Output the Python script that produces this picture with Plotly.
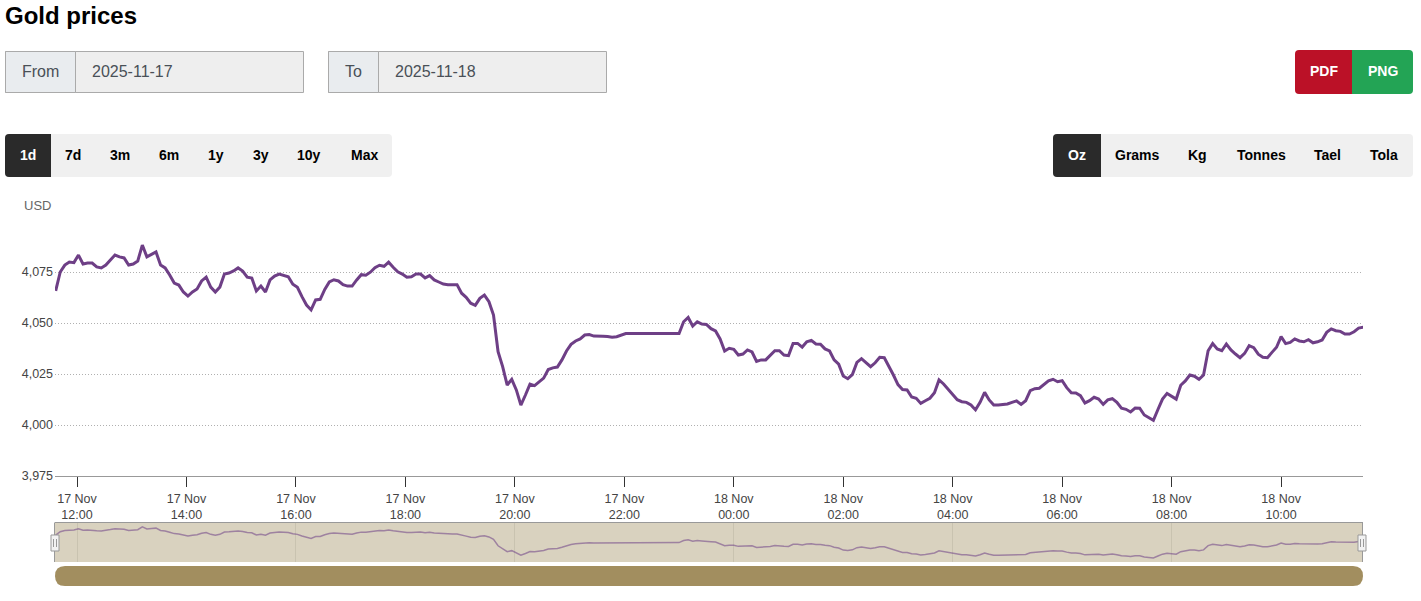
"""Gold prices page: 1-day USD/oz line with navigator and range controls."""

import pandas as pd
import plotly.graph_objects as go

# ── Data ──────────────────────────────────────────────────────────────────────
# 5-minute prices up to the flat stretch on the evening of 17 Nov
prices_before_gap = [
    4065.7, 4075.0, 4078.4, 4079.9, 4079.6, 4083.3, 4078.9, 4079.4, 4079.4, 4077.5,
    4077.0, 4078.4, 4080.9, 4083.3, 4082.4, 4081.9, 4078.4, 4078.9, 4080.4, 4088.2,
    4082.4, 4083.6, 4084.8, 4078.4, 4077.0, 4073.5, 4069.6, 4068.6, 4065.2, 4063.2,
    4065.2, 4066.7, 4070.6, 4072.5, 4067.6, 4065.2, 4067.6, 4074.0, 4074.5, 4075.5,
    4077.0, 4075.5, 4072.5, 4072.0, 4065.7, 4068.1, 4065.2, 4071.1, 4073.0, 4074.0,
    4073.5, 4072.7, 4069.0, 4067.5, 4062.9, 4058.8, 4056.4, 4061.3, 4061.6, 4066.5,
    4070.1, 4071.2, 4070.6, 4068.8, 4068.1, 4068.1, 4071.1, 4073.7, 4073.4, 4074.9,
    4077.1, 4078.3, 4077.8, 4079.8, 4077.3, 4075.1, 4074.0, 4072.4, 4072.7, 4074.0,
    4074.0, 4072.1, 4073.2, 4071.1, 4070.1, 4069.1, 4068.8, 4068.8, 4068.8, 4064.6,
    4062.6, 4059.7, 4058.7, 4062.1, 4063.7, 4060.4, 4053.9, 4035.9, 4028.6, 4019.6,
    4022.4, 4017.2, 4009.8, 4014.7, 4020.0, 4019.3, 4021.2, 4023.0, 4027.2, 4028.0,
    4028.4, 4031.9, 4036.3, 4039.5, 4041.2, 4042.2, 4044.1, 4044.3, 4043.6, 4043.7,
    4043.5, 4043.4, 4043.0, 4043.3, 4043.9, 4044.8, 4044.8, 4044.8, 4044.8, 4044.8,
    4044.8, 4044.8, 4044.8, 4044.8, 4044.8, 4044.8, 4044.8,
]

# 5-minute prices from 23:00 on 17 Nov to the end of the window
prices_after_gap = [
    4044.8, 4050.6, 4052.7, 4048.5, 4050.6, 4049.5, 4049.3, 4047.2, 4046.1, 4042.2,
    4036.3, 4037.6, 4037.1, 4034.3, 4034.8, 4036.8, 4035.8, 4031.2, 4031.9, 4031.9,
    4034.0, 4036.4, 4036.4, 4034.3, 4034.0, 4040.0, 4040.0, 4038.2, 4040.8, 4041.5,
    4039.7, 4039.6, 4037.3, 4036.3, 4031.9, 4029.8, 4024.0, 4022.7, 4024.7, 4030.7,
    4032.5, 4030.7, 4028.6, 4030.5, 4033.2, 4033.0, 4029.1, 4024.5, 4019.8, 4017.4,
    4017.2, 4013.7, 4013.1, 4010.6, 4011.9, 4013.1, 4015.8, 4022.1, 4020.1, 4017.5,
    4015.0, 4012.4, 4011.4, 4011.1, 4009.8, 4007.4, 4011.1, 4016.0, 4012.3, 4009.8,
    4009.8, 4010.1, 4010.3, 4011.1, 4011.8, 4010.1, 4011.9, 4016.8, 4017.8, 4018.0,
    4019.9, 4021.6, 4022.4, 4021.2, 4021.7, 4018.3, 4015.8, 4015.7, 4014.4, 4010.8,
    4011.9, 4013.6, 4012.7, 4010.1, 4012.3, 4012.9, 4011.1, 4008.2, 4007.7, 4006.4,
    4008.3, 4008.2, 4004.9, 4003.7, 4002.3, 4007.6, 4012.7, 4015.5, 4014.2, 4012.7,
    4019.5, 4021.6, 4024.5, 4023.9, 4022.4, 4024.5, 4036.4, 4039.9, 4037.3, 4036.4,
    4039.7, 4036.8, 4034.8, 4033.0, 4035.1, 4038.9, 4037.9, 4034.7, 4033.2, 4033.0,
    4035.6, 4038.1, 4043.3, 4039.9, 4040.5, 4042.2, 4041.2, 4040.8, 4041.8, 4040.3,
    4040.8, 4041.7, 4045.4, 4047.1, 4046.2, 4045.9, 4044.6, 4044.6, 4045.7, 4047.5,
    4047.9,
]

tick_times = [
    "2025-11-17 12:00", "2025-11-17 14:00", "2025-11-17 16:00", "2025-11-17 18:00",
    "2025-11-17 20:00", "2025-11-17 22:00", "2025-11-18 00:00", "2025-11-18 02:00",
    "2025-11-18 04:00", "2025-11-18 06:00", "2025-11-18 08:00", "2025-11-18 10:00",
]
tick_labels = [
    "17 Nov<br>12:00", "17 Nov<br>14:00", "17 Nov<br>16:00", "17 Nov<br>18:00",
    "17 Nov<br>20:00", "17 Nov<br>22:00", "18 Nov<br>00:00", "18 Nov<br>02:00",
    "18 Nov<br>04:00", "18 Nov<br>06:00", "18 Nov<br>08:00", "18 Nov<br>10:00",
]
nav_grid_times = tick_times[::2]
price_ticks = [3975, 4000, 4025, 4050, 4075, 4100]
price_tick_labels = ["3,975", "4,000", "4,025", "4,050", "4,075", ""]

range_buttons = ["1d", "7d", "3m", "6m", "1y", "3y", "10y", "Max"]
unit_buttons = ["Oz", "Grams", "Kg", "Tonnes", "Tael", "Tola"]

# ── Page geometry (pixels) and colours ────────────────────────────────────────
W, H = 1421, 601
PLOT_L, PLOT_R = 55, 1363
PLOT_T, PLOT_B = 221, 476
NAV_T, NAV_B = 523, 562
BAR_T, BAR_B = 566, 586
FONT = "Liberation Sans, Arial, sans-serif"

PURPLE = "#6e3f86"
NAV_BG = "#d9d2bf"
BAR_GOLD = "#a28e5f"
DARK_BTN = "#2a2a2a"
LIGHT_BTN = "#f0f0f0"

range_centers = [28, 73, 120, 169, 216, 261, 309, 364]
unit_centers = [1077, 1137, 1197.5, 1261, 1327, 1384]


def px(x):
    return x / W


def py(y):
    return 1 - y / H


def rect(x0, y0, x1, y1, fill, line=None, layer="below"):
    return dict(
        type="rect", xref="paper", yref="paper",
        x0=px(x0), x1=px(x1), y0=py(y1), y1=py(y0),
        fillcolor=fill, layer=layer,
        line=dict(color=line or fill, width=1 if line else 0),
    )


def rounded(x0, y0, x1, y1, fill, tl=0, tr=0, br=0, bl=0):
    """Rect with per-corner radii, as a paper-space path."""
    def p(x, y):
        return f"{px(x)},{py(y)}"
    path = (
        f"M{p(x0 + tl, y0)} L{p(x1 - tr, y0)} Q{p(x1, y0)} {p(x1, y0 + tr)} "
        f"L{p(x1, y1 - br)} Q{p(x1, y1)} {p(x1 - br, y1)} "
        f"L{p(x0 + bl, y1)} Q{p(x0, y1)} {p(x0, y1 - bl)} "
        f"L{p(x0, y0 + tl)} Q{p(x0, y0)} {p(x0 + tl, y0)} Z"
    )
    return dict(type="path", xref="paper", yref="paper", path=path,
                fillcolor=fill, line=dict(width=0), layer="below")


def seg(x0, y0, x1, y1, color, width=1):
    return dict(type="line", xref="paper", yref="paper", layer="above",
                x0=px(x0), x1=px(x1), y0=py(y0), y1=py(y1),
                line=dict(color=color, width=width))


def label(text, x, y, size=14, color="#000000", bold=False, anchor="center"):
    return dict(
        text=f"<b>{text}</b>" if bold else text,
        x=px(x), y=py(y), xref="paper", yref="paper",
        xanchor=anchor, yanchor="middle", showarrow=False,
        font=dict(family=FONT, size=size, color=color),
    )


# ── Traces ────────────────────────────────────────────────────────────────────
times = list(pd.date_range("2025-11-17 11:36:36", periods=len(prices_before_gap), freq="5min"))
times += list(pd.date_range("2025-11-17 23:00", periods=len(prices_after_gap), freq="5min"))
prices = prices_before_gap + prices_after_gap

x_range = ["2025-11-17 11:35:52", "2025-11-18 11:29:48"]

fig = go.Figure()
fig.add_trace(go.Scatter(
    x=times, y=prices, mode="lines", showlegend=False, hoverinfo="skip",
    line=dict(color=PURPLE, width=3),
))
fig.add_trace(go.Scatter(
    x=times, y=prices, mode="lines", showlegend=False, hoverinfo="skip",
    line=dict(color="rgba(110,63,134,0.55)", width=1.5),
    xaxis="x2", yaxis="y2",
))

# ── Page furniture ────────────────────────────────────────────────────────────
shapes = [
    # date inputs
    rect(5.5, 51.5, 303.5, 92.5, "#eeeeee", "#aaaaaa"),
    rect(5.5, 51.5, 75.5, 92.5, "#e9ecef", "#aaaaaa"),
    rect(328.5, 51.5, 606.5, 92.5, "#eeeeee", "#aaaaaa"),
    rect(328.5, 51.5, 378.5, 92.5, "#e9ecef", "#aaaaaa"),
    # export buttons
    rounded(1295, 50, 1352, 94, "#bb1127", tl=4, bl=4),
    rounded(1352, 50, 1413, 94, "#23a455", tr=4, br=4),
    # button bars
    rounded(5, 134, 392, 177, LIGHT_BTN, tl=4, tr=4, br=4, bl=4),
    rounded(5, 134, 51, 177, DARK_BTN, tl=4, bl=4),
    rounded(1053, 134, 1413, 177, LIGHT_BTN, tl=4, tr=4, br=4, bl=4),
    rounded(1053, 134, 1101, 177, DARK_BTN, tl=4, bl=4),
    # navigator and scrollbar
    rect(PLOT_L, NAV_T, PLOT_R, NAV_B, NAV_BG),
    rounded(PLOT_L, BAR_T, PLOT_R, BAR_B, BAR_GOLD, tl=10, tr=10, br=10, bl=10),
    # navigator outline and handles
    seg(PLOT_L, NAV_T - 0.5, PLOT_R, NAV_T - 0.5, "#999999"),
    seg(PLOT_L - 0.5, NAV_T - 0.5, PLOT_L - 0.5, NAV_B, "#999999"),
    seg(PLOT_R - 0.5, NAV_T - 0.5, PLOT_R - 0.5, NAV_B, "#999999"),
]
for cx in (55, 1362):
    shapes.append(rect(cx - 4, 535, cx + 4, 551, "#f2f2f2", "#999999", layer="above"))
    shapes.append(seg(cx - 1.5, 539, cx - 1.5, 547, "#999999"))
    shapes.append(seg(cx + 1.5, 539, cx + 1.5, 547, "#999999"))

annotations = [
    label("Gold prices", 3, 16, size=24, bold=True, anchor="left"),
    label("From", 40.5, 71.5, size=16, color="#495057"),
    label("2025-11-17", 90, 71.5, size=16, color="#495057", anchor="left"),
    label("To", 353.5, 71.5, size=16, color="#495057"),
    label("2025-11-18", 393, 71.5, size=16, color="#495057", anchor="left"),
    label("PDF", 1324, 71, size=14, color="#ffffff", bold=True),
    label("PNG", 1382.5, 71, size=14, color="#ffffff", bold=True),
    label("USD", 53, 206, size=13, color="#666666", anchor="right"),
]
for name, cx in zip(range_buttons, range_centers):
    annotations.append(label(name, cx, 155, bold=True, color="#ffffff" if name == "1d" else "#000000"))
for name, cx in zip(unit_buttons, unit_centers):
    annotations.append(label(name, cx, 155, bold=True, color="#ffffff" if name == "Oz" else "#000000"))

fig.update_layout(
    width=W, height=H,
    margin=dict(l=0, r=0, t=0, b=0),
    paper_bgcolor="#ffffff", plot_bgcolor="rgba(0,0,0,0)",
    font=dict(family=FONT, size=12.5, color="#444444"),
    hovermode=False,
    shapes=shapes,
    annotations=annotations,
    xaxis=dict(
        domain=[px(PLOT_L), px(PLOT_R)], range=x_range, type="date",
        tickmode="array", tickvals=tick_times, ticktext=tick_labels,
        ticks="outside", ticklen=10, tickcolor="#333333", tickwidth=1,
        ticklabelstandoff=1, automargin=False,
        tickfont=dict(size=12.5, color="#444444"),
        showgrid=False, showline=True, linecolor="#999999", linewidth=1,
        zeroline=False, anchor="y",
    ),
    yaxis=dict(
        domain=[py(PLOT_B), py(PLOT_T)], range=[3975, 4100],
        tickmode="array", tickvals=price_ticks, ticktext=price_tick_labels,
        tickfont=dict(size=12.5, color="#444444"), ticks="",
        ticklabelstandoff=1, automargin=False,
        showgrid=True, gridcolor="#b0b0b0", griddash="1px,2px", gridwidth=1,
        showline=False, zeroline=False, anchor="x",
    ),
    xaxis2=dict(
        domain=[px(PLOT_L), px(PLOT_R)], range=x_range, type="date",
        tickmode="array", tickvals=nav_grid_times, showticklabels=False,
        automargin=False,
        showgrid=True, gridcolor="#c9c3b0", gridwidth=1,
        showline=False, zeroline=False, anchor="y2",
    ),
    yaxis2=dict(
        domain=[py(NAV_B), py(NAV_T)], range=[3991, 4099],
        showticklabels=False, showgrid=False, showline=False,
        automargin=False, zeroline=False, anchor="x2",
    ),
)

# the page's default body margin would push the figure off the window
fig.write_html(
    "out.html",
    config={"displayModeBar": False},
    post_script="document.body.style.margin = '0';",
)
